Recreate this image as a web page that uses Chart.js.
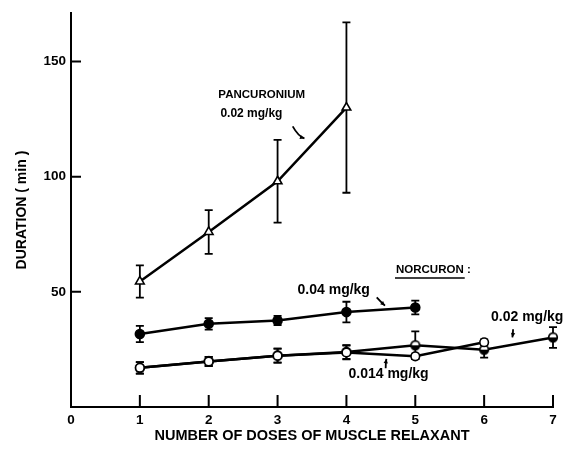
<!DOCTYPE html>
<html>
<head>
<meta charset="utf-8">
<script src="https://cdn.jsdelivr.net/npm/chart.js@4/dist/chart.umd.min.js"></script>
<style>
  html, body { margin: 0; padding: 0; background: #fff; }
  #wrap { width: 575px; height: 453px; }
</style>
</head>
<body>
<div id="wrap"><canvas id="c" width="575" height="453"></canvas></div>
<script>
// ---- data ----
const doses = [1, 2, 3, 4, 5, 6, 7];
const xTickLabels = ['0', '1', '2', '3', '4', '5', '6', '7'];
const yTickValues = [50, 100, 150];

const pancuronium002 = [54.5, 76, 98, 130];
const pancuronium002Err = [7, 9.5, 18, 37];

const norcuron004 = [31.7, 36.1, 37.6, 41.2, 43.2];
const norcuron004Err = [3.5, 2.5, 2, 4.5, 3];

const norcuron0014 = [17.0, 19.8, 22.3, 23.7, 22.0, 28.1];
const norcuron0014Err = [2.5, 2, 3, 3, 1.2, 1.2];

const norcuron002 = [17.0, 19.8, 22.3, 23.9, 26.8, 24.9, 30.2];
const norcuron002Err = [2.5, 2, 3, 3, 6, 3.5, 4.5];

// annotation texts (positions in data units)
const notes = [
  { text: 'PANCURONIUM', x: 2.14, y: 135.5, size: 11.5 },
  { text: '0.02 mg/kg', x: 2.17, y: 127.5, size: 12 },
  { text: 'NORCURON :', x: 4.72, y: 59.5, size: 11.5, underline: 'NORCURON' },
  { text: '0.04 mg/kg', x: 3.29, y: 50.6, size: 14 },
  { text: '0.02 mg/kg', x: 6.10, y: 38.8, size: 14 },
  { text: '0.014 mg/kg', x: 4.03, y: 14.1, size: 14 }
];
const arrows = [
  { x1: 3.22, y1: 121.8, cx: 3.30, cy: 117.5, x2: 3.39, y2: 116.6 },
  { x1: 4.44, y1: 47.6, cx: 4.50, cy: 45.6, x2: 4.56, y2: 44.0 },
  { x1: 6.42, y1: 33.8, cx: 6.42, cy: 32.0, x2: 6.41, y2: 30.2 },
  { x1: 4.57, y1: 16.8, cx: 4.57, cy: 18.8, x2: 4.58, y2: 20.9 }
];

function pts(vals) { return vals.map((v, i) => ({ x: doses[i], y: v })); }

function halfMarker() {
  const c = document.createElement('canvas');
  c.width = 12; c.height = 12;
  const g = c.getContext('2d');
  g.beginPath(); g.arc(6, 6, 4.3, 0, 2 * Math.PI); g.fillStyle = '#fff'; g.fill();
  g.beginPath(); g.arc(6, 6, 4.3, 0, Math.PI); g.fillStyle = '#000'; g.fill();
  g.beginPath(); g.arc(6, 6, 4.3, 0, 2 * Math.PI); g.lineWidth = 1.7; g.strokeStyle = '#000'; g.stroke();
  return c;
}

const errorBars = {
  id: 'errorBars',
  beforeDatasetsDraw(chart) {
    const ctx = chart.ctx, xs = chart.scales.x, ys = chart.scales.y;
    ctx.save();
    ctx.strokeStyle = '#000';
    ctx.lineWidth = 1.8;
    chart.data.datasets.forEach(ds => {
      (ds.errors || []).forEach((e, i) => {
        const p = ds.data[i];
        const px = xs.getPixelForValue(p.x);
        const top = ys.getPixelForValue(p.y + e);
        const bot = ys.getPixelForValue(p.y - e);
        ctx.beginPath();
        ctx.moveTo(px, top); ctx.lineTo(px, bot);
        ctx.moveTo(px - 4, top); ctx.lineTo(px + 4, top);
        ctx.moveTo(px - 4, bot); ctx.lineTo(px + 4, bot);
        ctx.stroke();
      });
    });
    ctx.restore();
  }
};

const inwardTicks = {
  id: 'inwardTicks',
  afterDraw(chart) {
    const ctx = chart.ctx, xs = chart.scales.x, ys = chart.scales.y, a = chart.chartArea;
    ctx.save();
    ctx.strokeStyle = '#000';
    ctx.lineWidth = 2;
    ctx.beginPath();
    for (let v = 1; v <= 7; v++) {
      const px = xs.getPixelForValue(v);
      ctx.moveTo(px, a.bottom); ctx.lineTo(px, a.bottom - 12);
    }
    yTickValues.forEach(v => {
      const py = ys.getPixelForValue(v);
      ctx.moveTo(a.left, py); ctx.lineTo(a.left + 10, py);
    });
    ctx.stroke();

    // annotations
    ctx.fillStyle = '#000';
    ctx.textBaseline = 'middle';
    ctx.textAlign = 'left';
    notes.forEach(n => {
      ctx.font = 'bold ' + n.size + 'px "Liberation Sans", Arial, sans-serif';
      const px = xs.getPixelForValue(n.x), py = ys.getPixelForValue(n.y);
      ctx.fillText(n.text, px, py);
      if (n.underline) {
        const w = ctx.measureText(n.underline).width;
        ctx.lineWidth = 1.5;
        ctx.beginPath(); ctx.moveTo(px - 1, py + 8); ctx.lineTo(px + w + 1, py + 8); ctx.stroke();
      }
    });
    ctx.lineWidth = 1.8;
    arrows.forEach(ar => {
      const x1 = xs.getPixelForValue(ar.x1), y1 = ys.getPixelForValue(ar.y1);
      const cx = xs.getPixelForValue(ar.cx), cy = ys.getPixelForValue(ar.cy);
      const x2 = xs.getPixelForValue(ar.x2), y2 = ys.getPixelForValue(ar.y2);
      ctx.beginPath(); ctx.moveTo(x1, y1); ctx.quadraticCurveTo(cx, cy, x2, y2); ctx.stroke();
      const ang = Math.atan2(y2 - cy, x2 - cx);
      ctx.beginPath();
      ctx.moveTo(x2, y2);
      ctx.lineTo(x2 - 5 * Math.cos(ang - 0.45), y2 - 5 * Math.sin(ang - 0.45));
      ctx.lineTo(x2 - 5 * Math.cos(ang + 0.45), y2 - 5 * Math.sin(ang + 0.45));
      ctx.closePath(); ctx.fill();
    });
    ctx.restore();
  }
};

const baseDs = { showLine: true, borderColor: '#000', borderWidth: 2.5, tension: 0, clip: false,
                 pointBorderColor: '#000', pointBorderWidth: 1.6 };

new Chart(document.getElementById('c'), {
  type: 'scatter',
  data: {
    datasets: [
      Object.assign({}, baseDs, { label: 'Pancuronium 0.02 mg/kg', data: pts(pancuronium002), errors: pancuronium002Err,
        pointStyle: 'triangle', pointRadius: 5, pointBackgroundColor: '#fff' }),
      Object.assign({}, baseDs, { label: 'Norcuron 0.04 mg/kg', data: pts(norcuron004), errors: norcuron004Err,
        pointStyle: 'circle', pointRadius: 4.5, pointBackgroundColor: '#000' }),
      Object.assign({}, baseDs, { label: 'Norcuron 0.014 mg/kg', data: pts(norcuron0014), errors: norcuron0014Err,
        pointStyle: 'circle', pointRadius: 4.3, pointBackgroundColor: '#fff' }),
      Object.assign({}, baseDs, { label: 'Norcuron 0.02 mg/kg', data: pts(norcuron002), errors: norcuron002Err,
        pointStyle: halfMarker() })
    ]
  },
  options: {
    responsive: false,
    animation: false,
    layout: { padding: { top: 12, right: 22, left: 0, bottom: 0 } },
    plugins: { legend: { display: false }, tooltip: { enabled: false } },
    scales: {
      x: {
        type: 'linear', min: 0, max: 7,
        grid: { display: false, drawTicks: false },
        border: { display: true, color: '#000', width: 2 },
        ticks: { stepSize: 1, color: '#000', padding: 5,
                 font: { family: '"Liberation Sans", Arial, sans-serif', size: 13.5, weight: 'bold' },
                 callback: (v) => xTickLabels[v] },
        title: { display: true, text: 'NUMBER OF DOSES OF MUSCLE RELAXANT', color: '#000',
                 font: { family: '"Liberation Sans", Arial, sans-serif', size: 14.5, weight: 'bold' },
                 padding: { top: 0, bottom: 8 } },
        afterFit: (s) => { s.height = 46; }
      },
      y: {
        type: 'linear', min: 0, max: 171,
        grid: { display: false, drawTicks: false },
        border: { display: true, color: '#000', width: 2 },
        afterBuildTicks: (s) => { s.ticks = yTickValues.map(v => ({ value: v })); },
        ticks: { color: '#000', padding: 5,
                 font: { family: '"Liberation Sans", Arial, sans-serif', size: 13.5, weight: 'bold' } },
        title: { display: true, text: 'DURATION ( min )', color: '#000',
                 font: { family: '"Liberation Sans", Arial, sans-serif', size: 14, weight: 'bold' },
                 padding: { top: 13.5, bottom: 0 } },
        afterFit: (s) => { s.width = 71; }
      }
    }
  },
  plugins: [errorBars, inwardTicks]
});
</script>
</body>
</html>
